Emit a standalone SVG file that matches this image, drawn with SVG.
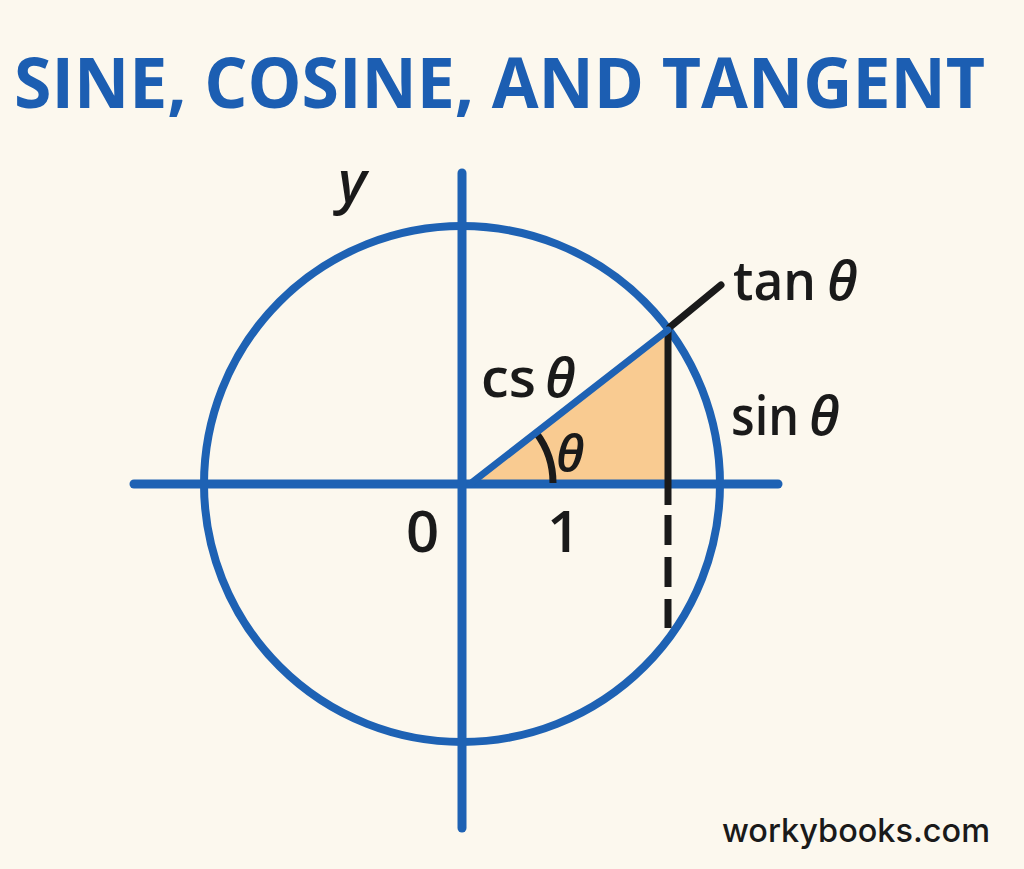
<svg xmlns="http://www.w3.org/2000/svg" width="1024" height="869" viewBox="0 0 1024 869">
<style>
.title{font-family:"Open Sans","Liberation Sans",sans-serif;font-weight:700;fill:#1C5EB2}
.lbl{font-family:"Open Sans","Liberation Sans",sans-serif;font-weight:600;fill:#1A1A1A}
.th{font-family:"Open Sans","Liberation Sans",sans-serif;font-style:italic;font-weight:600;fill:#1A1A1A}
.blue{stroke:#1E62B4;fill:none;stroke-linecap:round}
.blk{stroke:#1A1A1A;fill:none}
</style>
<rect width="1024" height="869" fill="#FCF8EE"/>
<text class="title" x="14" y="108" font-size="70" textLength="971" lengthAdjust="spacingAndGlyphs">SINE, COSINE, AND TANGENT</text>
<g id="connectors">
<polygon id="triangle" points="472,483 668,330 668,483" fill="#F9CB91"/>
<circle cx="462" cy="484" r="258" class="blue" stroke-width="8"/>
<line x1="134" y1="484" x2="778" y2="484" class="blue" stroke-width="9"/>
<line x1="462" y1="173" x2="462" y2="828" class="blue" stroke-width="9"/>
<line x1="668" y1="330" x2="668" y2="505" class="blk" stroke-width="7"/>
<line x1="668" y1="515" x2="668" y2="628" class="blk" stroke-width="7" stroke-dasharray="30 12"/>
<line x1="670" y1="327" x2="721" y2="285" class="blk" stroke-width="7" stroke-linecap="round"/>
<path d="M553,483 A83,83 0 0 0 536.3,433" class="blk" stroke-width="7"/>
<line x1="470" y1="484" x2="668" y2="330" class="blue" stroke-width="7"/>
</g>
<g id="label-y"><text class="th" x="338" y="202" font-size="58">y</text></g>
<g id="label-tan"><text class="lbl" x="733" y="300" font-size="54" textLength="83" lengthAdjust="spacingAndGlyphs">tan</text><text class="th" x="827" y="300" font-size="54">θ</text></g>
<g id="label-cos"><text class="lbl" x="481" y="397" font-size="54" textLength="55" lengthAdjust="spacingAndGlyphs">cs</text><text class="th" x="545" y="397" font-size="54">θ</text></g>
<g id="label-sin"><text class="lbl" x="731" y="435" font-size="54" textLength="68" lengthAdjust="spacingAndGlyphs">sin</text><text class="th" x="809" y="435" font-size="54">θ</text></g>
<g id="label-angle"><text class="th" x="556" y="472" font-size="50">θ</text></g>
<g id="label-0"><text class="lbl" x="406" y="552" font-size="58">0</text></g>
<g id="label-1"><text class="lbl" x="547" y="552" font-size="58">1</text></g>
<g id="watermark"><text x="722" y="842" font-family="Inter,'Liberation Sans',sans-serif" font-weight="500" font-size="33" fill="#1A1A1A" textLength="268" lengthAdjust="spacingAndGlyphs">workybooks.com</text></g>
</svg>
